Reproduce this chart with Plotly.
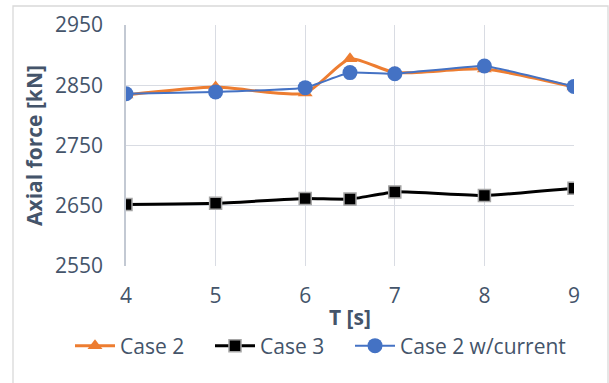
import plotly.graph_objects as go

T = [4, 5, 6, 6.5, 7, 8, 9]
case2 = [2834, 2847, 2837, 2894, 2871, 2877, 2847]
case3 = [2652, 2654, 2662, 2661, 2673, 2667, 2679]
case2_current = [2836, 2839, 2846, 2871, 2869, 2882, 2848]
y_ticks = [2550, 2650, 2750, 2850, 2950]
x_ticks = [4, 5, 6, 7, 8, 9]

FONT = "Open Sans"
TXT = "#44546A"
FS = 21

fig = go.Figure()
fig.add_trace(go.Scatter(
    x=T, y=case2, name="Case 2", mode="lines+markers", legendwidth=85,
    line=dict(color="#ED7D31", width=3, shape="spline", smoothing=0.6),
    marker=dict(symbol="triangle-up", size=13, color="#ED7D31"),
))
fig.add_trace(go.Scatter(
    x=T, y=case3, name="Case 3", mode="lines+markers", legendwidth=85,
    line=dict(color="#000000", width=3, shape="spline", smoothing=0.4),
    marker=dict(symbol="square", size=12, color="#000000",
                line=dict(color="#A5A5A5", width=1.5)),
))
fig.add_trace(go.Scatter(
    x=T, y=case2_current, name="Case 2 w/current", mode="lines+markers",
    legendwidth=185,
    line=dict(color="#4472C4", width=2, shape="spline", smoothing=0.3),
    marker=dict(symbol="circle", size=15, color="#4472C4"),
))

L, R, TOP, B = 126, 35, 25, 117
W, H = 609, 383
pw, ph = W - L - R, H - TOP - B

def px(x):
    return (x - L) / pw

def py(y):
    return (H - B - y) / ph

fig.update_layout(
    width=W, height=H,
    margin=dict(l=L, r=R, t=TOP, b=B, pad=0, autoexpand=False),
    paper_bgcolor="white", plot_bgcolor="white",
    font=dict(family=FONT, size=FS, color=TXT),
    showlegend=True,
    legend=dict(orientation="h", x=px(70), xanchor="left",
                y=py(346), yanchor="middle",
                font=dict(family=FONT, size=FS, color=TXT),
                itemwidth=40, tracegroupgap=0, itemsizing="trace",
                bgcolor="rgba(0,0,0,0)"),
    xaxis=dict(range=[4, 9], tickvals=x_ticks, showgrid=True,
               gridcolor="#D9DCE3", gridwidth=1.3, zeroline=False,
               showline=False, ticklabelstandoff=15,
               tickfont=dict(family=FONT, size=FS, color=TXT)),
    yaxis=dict(range=[2550, 2950], tickvals=y_ticks, showgrid=True,
               gridcolor="#D9DCE3", gridwidth=1.3, zeroline=False,
               showline=True, linecolor="#C3C9D3", linewidth=1.5,
               ticklabelstandoff=17,
               tickfont=dict(family=FONT, size=FS, color=TXT)),
    annotations=[
        dict(text="<b>T [s]</b>", x=0.5, y=py(317), xref="paper", yref="paper",
             showarrow=False, xanchor="center", yanchor="middle",
             font=dict(family=FONT, size=FS, color=TXT)),
        dict(text="<b>Axial force [kN]</b>", x=px(34), y=py(146), xref="paper",
             yref="paper", showarrow=False, textangle=-90,
             xanchor="center", yanchor="middle",
             font=dict(family=FONT, size=FS, color=TXT)),
    ],
    shapes=[dict(type="rect", xref="paper", yref="paper",
                 x0=px(13), x1=px(608), y0=py(395), y1=py(6),
                 line=dict(color="#D9D9D9", width=1.3), layer="below")],
)

fig.write_html("out.html", config={"displayModeBar": False},
               post_script="document.body.style.margin='0';document.body.style.overflow='hidden';")
